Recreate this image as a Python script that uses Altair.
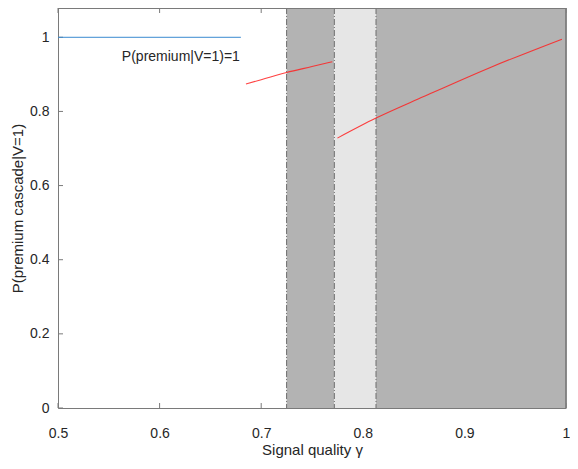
import altair as alt
import pandas as pd

# ---- data ----
x_ticks = [0.5, 0.6, 0.7, 0.8, 0.9, 1.0]
y_ticks = [0, 0.2, 0.4, 0.6, 0.8, 1.0]

region_start = [0.725, 0.772, 0.813]
region_end = [0.772, 0.813, 1.0]
region_kind = ["dark", "light", "dark"]
boundaries = [0.725, 0.772, 0.813]

blue_x = [0.5, 0.68]
blue_y = [1.0, 1.0]

red1_x = [0.685, 0.70, 0.725, 0.75, 0.77]
red1_y = [0.874, 0.8855, 0.905, 0.921, 0.934]

red2_x = [0.775, 0.813, 0.86, 0.925, 0.996]
red2_y = [0.728, 0.782, 0.840, 0.918, 0.995]

label_text = ["P(premium|V=1)=1"]
label_x = [0.679]
label_y = [0.946]

W, H = 508, 400
FONT = "Liberation Sans"
TXT = "#262626"
AX = "#7a7a7a"

xs = alt.Scale(domain=[0.5, 1.0], nice=False, zero=False)
ys = alt.Scale(domain=[0, 1.079], nice=False, zero=False)

xaxis = alt.Axis(values=x_ticks, format="~g", ticks=False, grid=False,
                 labelPadding=18, labelFontSize=14, labelFont=FONT, labelColor=TXT,
                 domainColor=AX, title="Signal quality γ", titleFont=FONT,
                 titleFontSize=15, titleFontWeight="normal", titleColor=TXT,
                 titleX=W / 2, titleY=41, titleBaseline="middle", labelFlush=False)
yaxis = alt.Axis(values=y_ticks, format="~g", ticks=False, grid=False,
                 labelPadding=9, labelFontSize=14, labelFont=FONT, labelColor=TXT,
                 domainColor=AX, title="P(premium cascade|V=1)", titleFont=FONT,
                 titleFontSize=15, titleFontWeight="normal", titleColor=TXT,
                 titleX=-41, titleY=H / 2, titleAngle=270, titleBaseline="middle")

# inward ticks (drawn first so shaded areas cover them as in the reference)
xt = pd.DataFrame({"x": x_ticks})
yt = pd.DataFrame({"y": y_ticks})
tick_bottom = alt.Chart(xt).mark_rule(color=AX, strokeWidth=1).encode(
    x=alt.X("x:Q", scale=xs, axis=xaxis), y=alt.value(H), y2=alt.value(H - 5))
tick_top = alt.Chart(xt).mark_rule(color=AX, strokeWidth=1).encode(
    x=alt.X("x:Q", scale=xs), y=alt.value(0), y2=alt.value(5))
tick_left = alt.Chart(yt).mark_rule(color=AX, strokeWidth=1).encode(
    y=alt.Y("y:Q", scale=ys, axis=yaxis), x=alt.value(0), x2=alt.value(5))
tick_right = alt.Chart(yt).mark_rule(color=AX, strokeWidth=1).encode(
    y=alt.Y("y:Q", scale=ys), x=alt.value(W), x2=alt.value(W - 5))

reg = pd.DataFrame({"a": region_start, "b": region_end, "k": region_kind})
rects = alt.Chart(reg).mark_rect(strokeWidth=0).encode(
    x=alt.X("a:Q", scale=xs), x2="b:Q",
    y=alt.value(0), y2=alt.value(H),
    color=alt.Color("k:N", scale=alt.Scale(domain=["dark", "light"],
                                           range=["#b3b3b3", "#e6e6e6"]), legend=None))

bnd = pd.DataFrame({"x": boundaries})
vlines = alt.Chart(bnd).mark_rule(color="#6e6e6e", strokeWidth=1,
                                  strokeDash=[6, 2, 1, 2]).encode(
    x=alt.X("x:Q", scale=xs), y=alt.value(0), y2=alt.value(H))

blue = alt.Chart(pd.DataFrame({"x": blue_x, "y": blue_y})).mark_line(
    color="#3a8ad0", strokeWidth=1).encode(
    x=alt.X("x:Q", scale=xs), y=alt.Y("y:Q", scale=ys))

red1 = alt.Chart(pd.DataFrame({"x": red1_x, "y": red1_y})).mark_line(
    color="#ff2020", strokeWidth=1.1, opacity=0.85, interpolate="monotone").encode(
    x=alt.X("x:Q", scale=xs), y=alt.Y("y:Q", scale=ys))
red2 = alt.Chart(pd.DataFrame({"x": red2_x, "y": red2_y})).mark_line(
    color="#ff2020", strokeWidth=1.1, opacity=0.85, interpolate="monotone").encode(
    x=alt.X("x:Q", scale=xs), y=alt.Y("y:Q", scale=ys))

label = alt.Chart(pd.DataFrame({"t": label_text, "x": label_x, "y": label_y})).mark_text(
    align="right", baseline="middle", font=FONT, fontSize=14, color=TXT).encode(
    x=alt.X("x:Q", scale=xs), y=alt.Y("y:Q", scale=ys), text="t:N")

border_top = alt.Chart(bnd).mark_rule(color=AX, strokeWidth=1).encode(
    x=alt.value(0), x2=alt.value(W), y=alt.value(0.5))
border_right = alt.Chart(bnd).mark_rule(color=AX, strokeWidth=1).encode(
    x=alt.value(W), y=alt.value(0), y2=alt.value(H))

chart = alt.layer(
    tick_bottom, tick_top, tick_left, tick_right,
    rects, vlines, blue, red1, red2, label, border_top, border_right
).properties(
    width=W, height=H,
    autosize=alt.AutoSizeParams(type="none"),
    padding={"left": 50, "top": 0, "right": 4, "bottom": 50},
).configure_view(stroke=None).configure_axis(zindex=1)

chart.save("out.html", embed_options={"renderer": "svg", "actions": False})
